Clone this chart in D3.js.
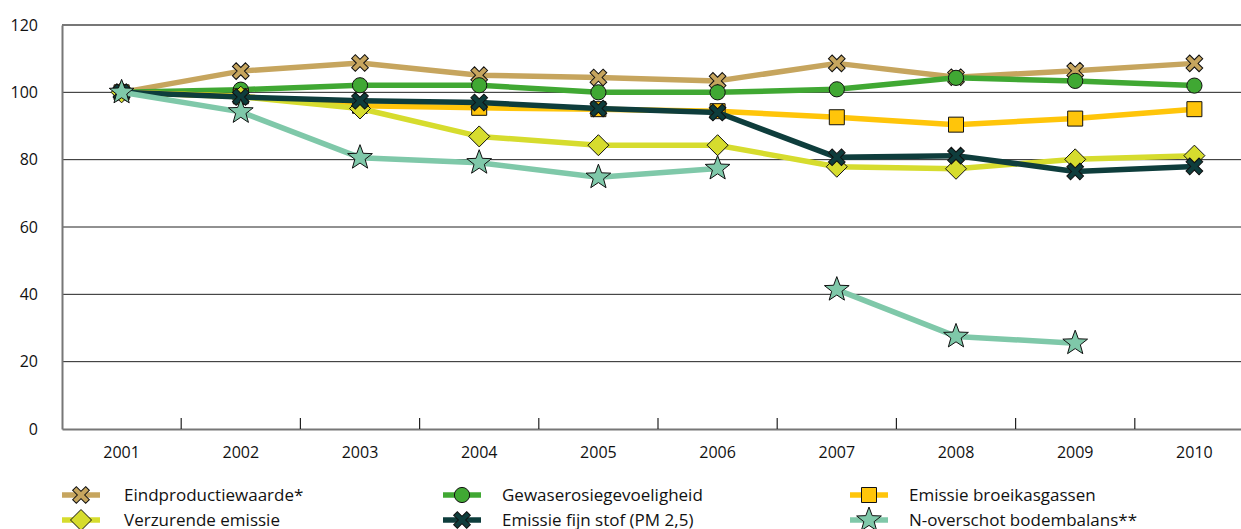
<!DOCTYPE html>
<html>
<head>
<meta charset="utf-8">
<script src="https://cdn.jsdelivr.net/npm/d3@7"></script>
<style>
  body { margin: 0; background: #fff; }
  svg { display: block; font-family: 'Open Sans', sans-serif; }
</style>
</head>
<body>
<div id="chart"></div>
<script>
'use strict';

// Data (index, 2001 = 100)
const years = ['2001', '2002', '2003', '2004', '2005', '2006', '2007', '2008', '2009', '2010'];
const eindproductiewaarde = [100, 106.3, 108.7, 105.1, 104.4, 103.4, 108.6, 104.5, 106.4, 108.6];
const gewaserosie = [100, 100.8, 102.1, 102.1, 100, 100, 100.9, 104.3, 103.4, 102];
const broeikasgassen = [100, 98.8, 96, 95.4, 95, 94.4, 92.6, 90.4, 92.2, 95];
const verzurend = [100, 98.7, 95.2, 86.9, 84.3, 84.3, 77.9, 77.3, 80.1, 81.2];
const fijnStof = [100, 98.6, 97.5, 97, 95.2, 94, 80.7, 81.2, 76.5, 78];
// N-overschot: series broken between 2006 and 2007
const nOverschotA = [100, 94.2, 80.6, 79.1, 74.8, 77.4, null, null, null, null];
const nOverschotB = [null, null, null, null, null, null, 41.4, 27.5, 25.5, null];
const yTicks = [0, 20, 40, 60, 80, 100, 120];

const settings = {
    width: 1241,
    height: 529,
    elId: '#chart'
};

const margin = { left: 62, top: 25, bottom: 429, right: 1254 };

const series = [
    { name: 'Eindproductiewaarde*', color: '#C6A55E', marker: 'x', values: [eindproductiewaarde] },
    { name: 'Gewaserosiegevoeligheid', color: '#40A833', marker: 'circle', values: [gewaserosie] },
    { name: 'Emissie broeikasgassen', color: '#FFC50A', marker: 'square', values: [broeikasgassen] },
    { name: 'Verzurende emissie', color: '#D6DC2E', marker: 'diamond', values: [verzurend] },
    { name: 'Emissie fijn stof (PM 2,5)', color: '#0E3D3C', marker: 'x', values: [fijnStof] },
    { name: 'N-overschot bodembalans**', color: '#7FC8A9', marker: 'star', values: [nOverschotA, nOverschotB] }
];

const svg = d3.select(settings.elId)
    .append('svg')
    .attr('width', settings.width)
    .attr('height', settings.height);

const x = d3.scaleBand()
    .domain(years)
    .range([margin.left, margin.right]);

const y = d3.scaleLinear()
    .domain([0, 120])
    .range([margin.bottom, margin.top]);

// Gridlines
svg.append('g')
    .selectAll('line')
    .data(yTicks.filter(t => t > 0 && t < 120))
    .enter()
    .append('line')
    .attr('x1', margin.left)
    .attr('x2', settings.width)
    .attr('y1', d => y(d))
    .attr('y2', d => y(d))
    .attr('stroke', '#222')
    .attr('stroke-width', 1);

// top line
svg.append('line')
    .attr('x1', margin.left).attr('x2', settings.width)
    .attr('y1', y(120)).attr('y2', y(120))
    .attr('stroke', '#777').attr('stroke-width', 2);

// y axis
const yAxis = svg.append('g')
    .attr('transform', `translate(${margin.left},0)`)
    .call(d3.axisLeft(y).tickValues(yTicks).tickSize(0).tickPadding(24));
yAxis.select('.domain').attr('stroke', '#777').attr('stroke-width', 2);
yAxis.selectAll('text').attr('font-size', '16px').attr('fill', '#111').attr('font-family', "'Open Sans', sans-serif");

// x axis
const xAxis = svg.append('g')
    .attr('transform', `translate(0,${margin.bottom})`)
    .call(d3.axisBottom(x).tickSize(0).tickPadding(18));
xAxis.select('.domain').attr('stroke', '#777').attr('stroke-width', 2);
xAxis.selectAll('text').attr('font-size', '16px').attr('fill', '#111').attr('font-family', "'Open Sans', sans-serif");

// category boundary ticks
svg.append('g')
    .selectAll('line')
    .data(years.slice(1))
    .enter()
    .append('line')
    .attr('x1', d => x(d))
    .attr('x2', d => x(d))
    .attr('y1', margin.bottom)
    .attr('y2', margin.bottom - 11)
    .attr('stroke', '#222')
    .attr('stroke-width', 1.2);

// Marker shapes
function starPath(ro, ri) {
    const pts = [];
    for (let i = 0; i < 10; i++) {
        const r = i % 2 === 0 ? ro : ri;
        const a = -Math.PI / 2 + i * Math.PI / 5;
        pts.push([r * Math.cos(a), r * Math.sin(a)]);
    }
    return 'M' + pts.map(p => p.join(',')).join('L') + 'Z';
}

function xPath(a, w) {
    const pts = [[-w, -a], [w, -a], [w, -w], [a, -w], [a, w], [w, w], [w, a], [-w, a], [-w, w], [-a, w], [-a, -w], [-w, -w]];
    return 'M' + pts.map(p => p.join(',')).join('L') + 'Z';
}

const markerPaths = {
    x: xPath(9.2, 2.6),
    circle: d3.symbol().type(d3.symbolCircle).size(Math.PI * 7.6 * 7.6)(),
    square: 'M-7.5,-7.5L7.5,-7.5L7.5,7.5L-7.5,7.5Z',
    diamond: 'M0,-10.5L10.5,0L0,10.5L-10.5,0Z',
    star: starPath(13, 5.4)
};

function drawMarker(sel, s) {
    sel.append('path')
        .attr('d', markerPaths[s.marker])
        .attr('transform', s.marker === 'x' ? 'rotate(45)' : null)
        .attr('fill', s.color)
        .attr('stroke', '#111')
        .attr('stroke-width', 1);
}

const line = d3.line()
    .defined(d => d[1] !== null)
    .x(d => x(d[0]) + x.bandwidth() / 2)
    .y(d => y(d[1]));

series.forEach(s => {
    const g = svg.append('g');
    s.values.forEach(vals => {
        const pts = years.map((yr, i) => [yr, vals[i]]);
        g.append('path')
            .datum(pts)
            .attr('d', line)
            .attr('fill', 'none')
            .attr('stroke', s.color)
            .attr('stroke-width', 5.5)
            .attr('stroke-linejoin', 'round');
        g.selectAll(null)
            .data(pts.filter(d => d[1] !== null))
            .enter()
            .append('g')
            .attr('transform', d => `translate(${x(d[0]) + x.bandwidth() / 2},${y(d[1])})`)
            .each(function () { drawMarker(d3.select(this), s); });
    });
});

// Legend
const legendCols = [62, 443, 850];
const legendRows = [495, 520];
const legendOrder = [0, 3, 1, 4, 2, 5];

legendOrder.forEach((si, k) => {
    const s = series[si];
    const cx = legendCols[Math.floor(k / 2)];
    const cy = legendRows[k % 2];
    const lg = svg.append('g').attr('transform', `translate(${cx},${cy})`);
    lg.append('line')
        .attr('x1', 0).attr('x2', 38)
        .attr('stroke', s.color)
        .attr('stroke-width', 5.5);
    const m = lg.append('g').attr('transform', 'translate(19,0)');
    drawMarker(m, s);
    lg.append('text')
        .attr('x', cx === 62 ? 62 : 59)
        .attr('y', 0)
        .attr('dy', '0.35em')
        .attr('font-size', '17px')
        .attr('fill', '#111')
        .text(s.name);
});
</script>
</body>
</html>
